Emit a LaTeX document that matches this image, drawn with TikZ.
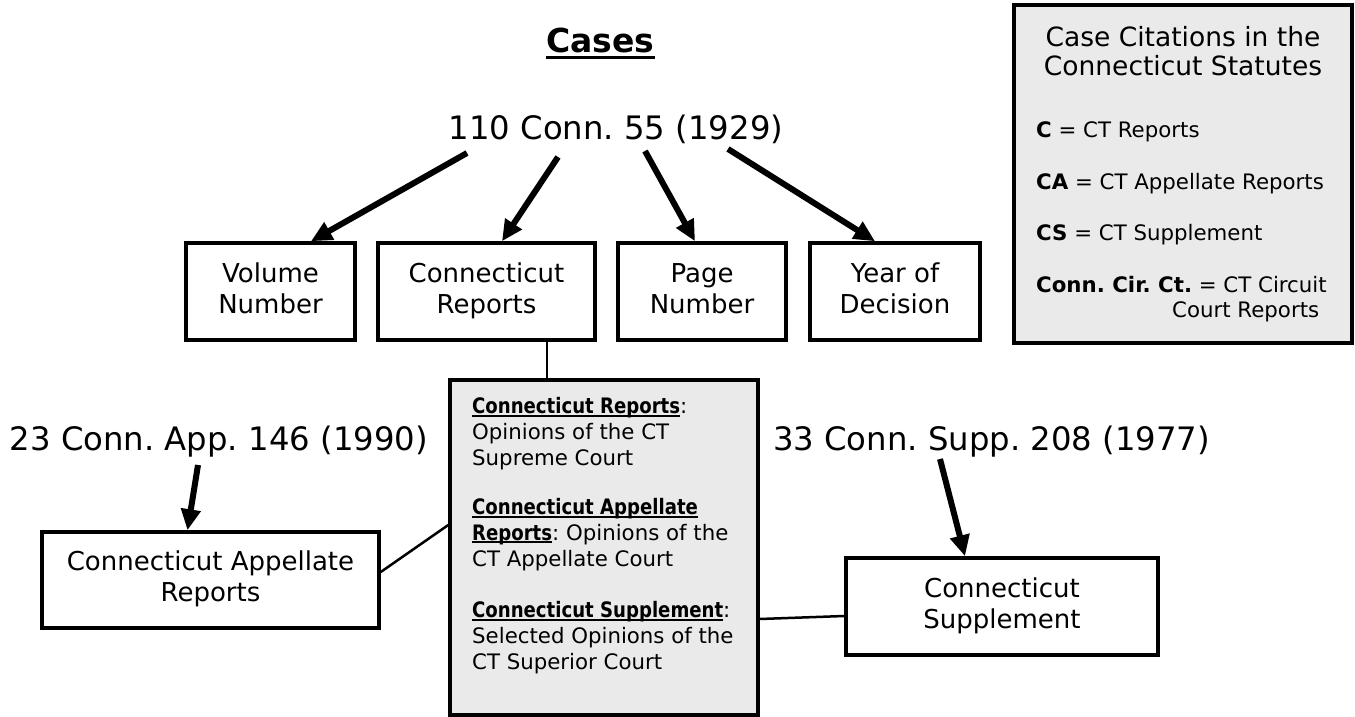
\documentclass[tikz,border=0pt]{standalone}
\usepackage{fontspec}
\setmainfont{DejaVu Sans}
\newfontfamily\nbold{DejaVu Sans}[FakeStretch=0.85]
\usetikzlibrary{arrows.meta}
\definecolor{boxgray}{RGB}{234,234,234}
\newcommand\myul[3]{\setbox0\hbox{#3}\rlap{\rule[-#1]{\wd0}{#2}}\box0}
\newcommand\gbu[1]{\myul{3.4pt}{2pt}{\nbold\bfseries #1}}
\frenchspacing
\begin{document}
\begin{tikzpicture}[x=1pt,y=-1pt,
  lbox/.style={draw, line width=3.5pt, inner sep=0pt, align=center, font=\fontsize{26}{31}\selectfont},
  gbox/.style={draw, line width=3.5pt, fill=boxgray, inner sep=0pt},
  arr/.style={line width=6pt, -{Triangle[length=21pt,width=19pt]}},
  conn/.style={line width=2.5pt},
  cite/.style={font=\fontsize{32.3}{38}\selectfont, inner sep=0pt, anchor=base},
  gtxt/.style={font=\fontsize{21.3}{25.8}\selectfont, inner sep=0pt, anchor=base west},
  ttl/.style={font=\fontsize{26.5}{30}\selectfont, inner sep=0pt, anchor=base}
]
\useasboundingbox (0,0) rectangle (1355,717);

% title
\node[cite, font=\bfseries\fontsize{33}{40}\selectfont] (title) at (600.5,52.3) {\myul{6.5pt}{2.5pt}{Cases}};

% main citation
\node[cite] (c110) at (616,139.3) {110 Conn. 55 (1929)};

% top row boxes
\node[lbox, minimum width=169pt, minimum height=97pt] (vol) at (270.5,291.5) {\strut Volume\\\strut Number};
\node[lbox, minimum width=217pt, minimum height=97pt] (rep) at (486.5,291.5) {\strut Connecticut\\\strut Reports};
\node[lbox, minimum width=168pt, minimum height=97pt] (page) at (702,291.5) {\strut Page\\\strut Number};
\node[lbox, minimum width=170pt, minimum height=97pt] (year) at (895,291.5) {\strut Year of\\\strut Decision};

\draw[arr] ([xshift=-149pt,yshift=-13.7pt]c110.base) -- ([xshift=40.5pt]vol.north);
\draw[arr] ([xshift=-58pt,yshift=-17.7pt]c110.base) -- ([xshift=15.5pt]rep.north);
\draw[arr] ([xshift=29pt,yshift=-11.7pt]c110.base) -- ([xshift=-7pt]page.north);
\draw[arr] ([xshift=112pt,yshift=-9.7pt]c110.base) -- ([xshift=-20pt]year.north);

% legend box
\node[gbox, minimum width=338pt, minimum height=338pt] (leg) at (1183,174) {};
\node[ttl] (l1) at (1183,47) {Case Citations in the};
\node[ttl] (l2) at (1183,76) {Connecticut Statutes};
\node[gtxt] (l3) at (1036,137.3) {\textbf{C} = CT Reports};
\node[gtxt] (l4) at (1036,189) {\textbf{CA} = CT Appellate Reports};
\node[gtxt] (l5) at (1036,240.7) {\textbf{CS} = CT Supplement};
\node[gtxt] (l6) at (1036,292.7) {\textbf{Conn. Cir. Ct.} = CT Circuit};
\node[gtxt] (l7) at (1172,317.7) {Court Reports};

% central grey box
\node[gbox, minimum width=308pt, minimum height=335pt] (gb) at (604,547.5) {};
\node[gtxt] (g1) at (472,413.3) {\gbu{Connecticut Reports}:};
\node[gtxt] (g2) at (472,439.3) {Opinions of the CT};
\node[gtxt] (g3) at (472,465) {Supreme Court};
\node[gtxt] (g4) at (472,514.3) {\gbu{Connecticut Appellate}};
\node[gtxt] (g5) at (472,540) {\gbu{Reports}: Opinions of the};
\node[gtxt] (g6) at (472,566) {CT Appellate Court};
\node[gtxt] (g7) at (472,617.3) {\gbu{Connecticut Supplement}:};
\node[gtxt] (g8) at (472,643.3) {Selected Opinions of the};
\node[gtxt] (g9) at (472,669) {CT Superior Court};

\draw[conn] ([xshift=60.5pt]rep.south) -- ([xshift=-57pt]gb.north);

% lower citations
\node[cite] (capp) at (218.8,450) {23 Conn. App. 146 (1990)};
\node[cite] (csupp) at (991.5,450) {33 Conn. Supp. 208 (1977)};
\node[lbox, minimum width=337pt, minimum height=96pt] (app) at (210.5,580) {\strut Connecticut Appellate\\\strut Reports};
\node[lbox, minimum width=312pt, minimum height=97pt] (supp) at (1002,606.5) {\strut Connecticut\\\strut Supplement};

\draw[arr] ([xshift=-20.8pt,yshift=-15pt]capp.base) -- ([xshift=-23pt]app.north);
\draw[arr] ([xshift=-51.5pt,yshift=-9pt]csupp.base) -- ([xshift=-37pt]supp.north);

\draw[conn] ([yshift=8pt]app.east) -- ([yshift=22.5pt]gb.west);
\draw[conn] ([yshift=-71.5pt]gb.east) -- ([yshift=-9.5pt]supp.west);
\end{tikzpicture}
\end{document}
